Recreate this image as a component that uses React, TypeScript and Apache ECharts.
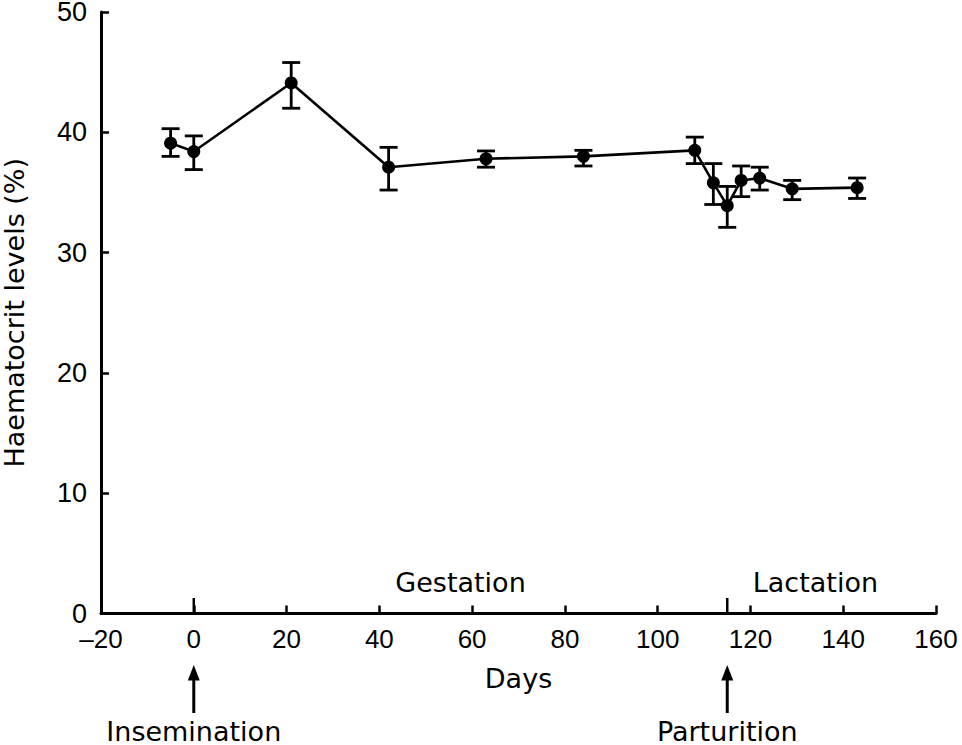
import React, { useEffect, useRef } from "react";
import * as echarts from "echarts";

const days = [-5, 0, 21, 42, 63, 84, 108, 112, 115, 118, 122, 129, 143];
const haematocrit = [39.1, 38.4, 44.1, 37.1, 37.8, 38.0, 38.5, 35.8, 33.9, 36.0, 36.2, 35.3, 35.4];
const errUpper = [40.3, 39.7, 45.8, 38.75, 38.45, 38.5, 39.6, 37.4, 35.5, 37.2, 37.1, 36.0, 36.2];
const errLower = [38.0, 36.9, 42.0, 35.2, 37.1, 37.2, 37.4, 34.0, 32.1, 34.65, 35.2, 34.4, 34.5];

const eventDays = [0, 115];
const eventLabels = ["Insemination", "Parturition"];

const phaseCenters = [57.5, 134];
const phaseNames = ["Gestation", "Lactation"];

const xTicks = { min: -20, max: 160, interval: 20 };
const yTicks = { min: 0, max: 50, interval: 10 };

const INK = "#000";
const LABEL_FONT = "DejaVu Sans";
const TICK_FONT = "Liberation Sans";

export default function App() {
  const ref = useRef<HTMLDivElement>(null);

  useEffect(() => {
    document.body.style.margin = "0";
    const chart = echarts.init(ref.current!, null, { renderer: "svg" });

    const option: any = {
      animation: false,
      backgroundColor: "#fff",
      grid: { left: 101, right: 26, top: 12, bottom: 131.5, containLabel: false, outerBoundsMode: "none" },
      xAxis: {
        type: "value",
        min: xTicks.min,
        max: xTicks.max,
        interval: xTicks.interval,
        name: "Days",
        nameLocation: "middle",
        nameGap: 51,
        nameTextStyle: { fontFamily: LABEL_FONT, fontSize: 27, color: INK },
        axisLine: { show: true, onZero: false, lineStyle: { color: INK, width: 3 } },
        axisTick: { show: true, inside: true, length: 8, lineStyle: { color: INK, width: 2.5 } },
        axisLabel: {
          margin: 12,
          fontFamily: TICK_FONT,
          fontSize: 26,
          color: INK,
          formatter: (v: number) => (v < 0 ? "\u2013" + Math.abs(v) : String(v)),
        },
        splitLine: { show: false },
      },
      yAxis: {
        type: "value",
        min: yTicks.min,
        max: yTicks.max,
        interval: yTicks.interval,
        name: "Haematocrit levels (%)",
        nameLocation: "middle",
        nameGap: 74,
        nameRotate: 90,
        nameTextStyle: { fontFamily: LABEL_FONT, fontSize: 27, lineHeight: 26, color: INK },
        axisLine: { show: true, onZero: false, lineStyle: { color: INK, width: 3 } },
        axisTick: { show: true, inside: true, length: 8, lineStyle: { color: INK, width: 2.5 } },
        axisLabel: { margin: 14, fontFamily: TICK_FONT, fontSize: 27, lineHeight: 22, color: INK },
        splitLine: { show: false },
      },
      series: [
        {
          type: "custom",
          name: "errors",
          silent: true,
          z: 2,
          data: days.map((d, i) => [d, errLower[i], errUpper[i]]),
          renderItem: (params: any, api: any) => {
            const x = api.value(0);
            const lo = api.coord([x, api.value(1)]);
            const hi = api.coord([x, api.value(2)]);
            const hw = 9;
            const style = { stroke: INK, lineWidth: 2.8 };
            return {
              type: "group",
              children: [
                { type: "line", shape: { x1: lo[0], y1: lo[1], x2: hi[0], y2: hi[1] }, style },
                { type: "line", shape: { x1: lo[0] - hw, y1: lo[1], x2: lo[0] + hw, y2: lo[1] }, style },
                { type: "line", shape: { x1: hi[0] - hw, y1: hi[1], x2: hi[0] + hw, y2: hi[1] }, style },
              ],
            };
          },
        },
        {
          type: "line",
          name: "Haematocrit",
          z: 3,
          data: days.map((d, i) => [d, haematocrit[i]]),
          symbol: "circle",
          symbolSize: 13,
          itemStyle: { color: INK },
          lineStyle: { color: INK, width: 2.6 },
        },
        {
          type: "custom",
          name: "events",
          silent: true,
          clip: false,
          z: 4,
          data: eventDays.map((d) => [d, 0]),
          renderItem: (params: any, api: any) => {
            const p = api.coord([api.value(0), 0]);
            const x = p[0];
            const y = p[1];
            const label = eventLabels[params.dataIndex];
            return {
              type: "group",
              children: [
                { type: "line", shape: { x1: x, y1: y, x2: x, y2: y - 15.5 }, style: { stroke: INK, lineWidth: 2.5 } },
                { type: "line", shape: { x1: x, y1: y + 64, x2: x, y2: y + 99.5 }, style: { stroke: INK, lineWidth: 3 } },
                {
                  type: "polygon",
                  shape: { points: [[x, y + 51.5], [x - 6, y + 67], [x + 6, y + 67]] },
                  style: { fill: INK },
                },
                {
                  type: "text",
                  x: x,
                  y: y + 118,
                  style: {
                    text: label,
                    fill: INK,
                    font: `27px "${LABEL_FONT}"`,
                    lineHeight: 24,
                    align: "center",
                    verticalAlign: "middle",
                  },
                },
              ],
            };
          },
        },
        {
          type: "custom",
          name: "phases",
          silent: true,
          clip: false,
          z: 4,
          data: phaseCenters.map((c) => [c, 0]),
          renderItem: (params: any, api: any) => {
            const p = api.coord([api.value(0), 0]);
            return {
              type: "text",
              x: p[0],
              y: p[1] - 31.5,
              style: {
                text: phaseNames[params.dataIndex],
                fill: INK,
                font: `27px "${LABEL_FONT}"`,
                align: "center",
                verticalAlign: "middle",
              },
            };
          },
        },
      ],
    };

    chart.setOption(option);
    return () => chart.dispose();
  }, []);

  return (
    <div
      ref={ref}
      style={{ position: "absolute", left: 0, top: 0, width: 962, height: 745, background: "#fff" }}
    />
  );
}
